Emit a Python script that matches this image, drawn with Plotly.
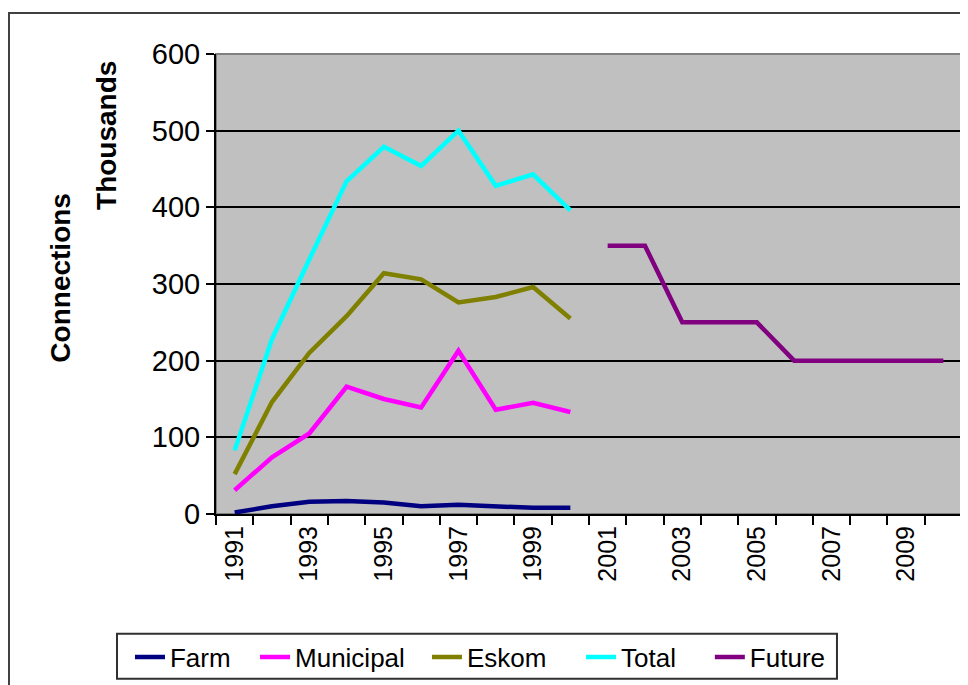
import plotly.graph_objects as go

# yearly connections, thousands
years_hist = [1991, 1992, 1993, 1994, 1995, 1996, 1997, 1998, 1999, 2000]
years_future = [2001, 2002, 2003, 2004, 2005, 2006, 2007, 2008, 2009, 2010]

farm = [2, 10, 16, 17, 15, 10, 12, 10, 8, 8]
municipal = [31, 74, 105, 166, 150, 139, 213, 136, 145, 133]
eskom = [52, 146, 210, 258, 314, 306, 276, 283, 296, 255]
total = [83, 228, 332, 434, 479, 454, 500, 428, 443, 396]
future = [350, 350, 250, 250, 250, 200, 200, 200, 200, 200]

label_years = [1991, 1993, 1995, 1997, 1999, 2001, 2003, 2005, 2007, 2009]

FONT = "Arial, Liberation Sans, sans-serif"

series = [
    ("Farm", years_hist, farm, "#000080"),
    ("Municipal", years_hist, municipal, "#FF00FF"),
    ("Eskom", years_hist, eskom, "#808000"),
    ("Total", years_hist, total, "#00FFFF"),
    ("Future", years_future, future, "#800080"),
]
# one small legend per entry so the spacing can follow the original box
legend_x = [-0.1153, 0.0523, 0.2828, 0.4893, 0.662]

fig = go.Figure()
legends = {}
for i, (name, xs, ys, col) in enumerate(series):
    key = "legend" if i == 0 else f"legend{i + 1}"
    fig.add_trace(go.Scatter(x=xs, y=ys, name=name, mode="lines", legend=key,
                             line=dict(color=col, width=4.5)))
    legends[key] = dict(x=legend_x[i], y=-0.308, xanchor="left", yanchor="middle",
                        orientation="h", bgcolor="rgba(0,0,0,0)", borderwidth=0,
                        font=dict(size=26, family=FONT))

boundaries = [y - 0.5 for y in range(1991, 2012)]

# page has an 8px body margin, so the figure is 8px smaller than the window
fig.update_layout(
    width=960, height=677,
    margin=dict(l=208, r=6, t=46, b=170),
    paper_bgcolor="white",
    plot_bgcolor="#C0C0C0",
    font=dict(family=FONT, color="black"),
    showlegend=True,
    xaxis=dict(range=[1990.5, 2010.5], tickvals=label_years,
               ticktext=[str(y) for y in label_years], ticks="",
               tickangle=-90, tickfont=dict(size=25, family=FONT),
               showgrid=False, zeroline=False,
               showline=True, linecolor="black", linewidth=2,
               minor=dict(tickvals=boundaries, ticks="outside", ticklen=9,
                          tickcolor="black", tickwidth=2, showgrid=False)),
    yaxis=dict(range=[0, 600], dtick=100, ticks="outside", ticklen=8,
               tickcolor="black", tickwidth=2,
               tickfont=dict(size=29, family=FONT),
               showgrid=True, gridcolor="black", gridwidth=1.5,
               zeroline=False, showline=True, linecolor="black", linewidth=2),
    shapes=[
        dict(type="rect", xref="paper", yref="paper", x0=0, x1=1, y0=0, y1=1,
             line=dict(color="#808080", width=2), layer="below"),
        dict(type="rect", xref="paper", yref="paper", x0=-0.2775, x1=1.02,
             y0=-0.4, y1=1.089, line=dict(color="#404040", width=2)),
        # legend box
        dict(type="rect", xref="paper", yref="paper", x0=-0.1327, x1=0.8324,
             y0=-0.3579, y1=-0.2603, line=dict(color="#303030", width=2)),
    ],
    annotations=[
        dict(text="<b>Connections</b>", xref="paper", yref="paper", x=-0.209, y=0.514,
             xanchor="center", yanchor="middle",
             textangle=-90, showarrow=False, font=dict(size=28, family=FONT)),
        dict(text="<b>Thousands</b>", xref="paper", yref="paper", x=-0.146, y=0.822,
             xanchor="center", yanchor="middle",
             textangle=-90, showarrow=False, font=dict(size=28, family=FONT)),
    ],
    **legends,
)

fig.write_html("out.html")
